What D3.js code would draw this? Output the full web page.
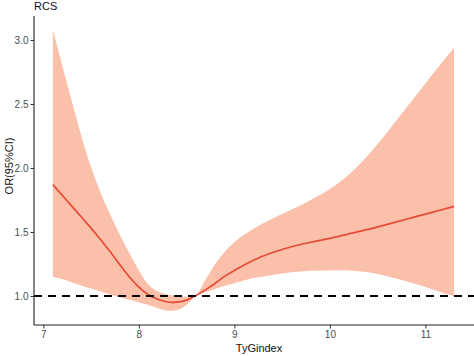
<!DOCTYPE html>
<html><head><meta charset="utf-8">
<script src="https://cdn.jsdelivr.net/npm/d3@7"></script>
<style>body{margin:0;background:#fff}svg{display:block}</style>
</head><body>
<svg id="c" width="474" height="356"></svg>
<script>
const tyg   = [7.1, 7.2, 7.3, 7.4, 7.5, 7.6, 7.7, 7.8, 7.9, 8.0, 8.1, 8.2, 8.3, 8.4, 8.5, 8.59, 8.7, 8.8, 8.9, 9.0, 9.2, 9.4, 9.6, 9.8, 10.0, 10.2, 10.4, 10.6, 10.8, 11.0, 11.2, 11.3];
const orVal = [1.87, 1.785, 1.70, 1.615, 1.53, 1.44, 1.345, 1.245, 1.15, 1.07, 1.01, 0.975, 0.953, 0.952, 0.968, 1.0, 1.05, 1.10, 1.155, 1.20, 1.28, 1.34, 1.385, 1.42, 1.45, 1.485, 1.52, 1.56, 1.60, 1.64, 1.68, 1.70];
const upper = [3.08, 2.795, 2.515, 2.245, 2.005, 1.805, 1.635, 1.48, 1.335, 1.20, 1.09, 1.035, 1.012, 1.0, 0.995, 1.0, 1.13, 1.25, 1.345, 1.42, 1.525, 1.605, 1.675, 1.75, 1.835, 1.95, 2.10, 2.28, 2.47, 2.66, 2.85, 2.94];
const lower = [1.15, 1.13, 1.105, 1.08, 1.058, 1.035, 1.012, 0.99, 0.97, 0.95, 0.93, 0.905, 0.885, 0.89, 0.93, 1.0, 1.03, 1.055, 1.08, 1.10, 1.14, 1.165, 1.185, 1.197, 1.20, 1.20, 1.185, 1.155, 1.115, 1.07, 1.02, 1.0];
const xTicks = [7, 8, 9, 10, 11];
const yTicks = [1.0, 1.5, 2.0, 2.5, 3.0];
const refValue = 1.0;

const data = tyg.map((x, i) => ({x, y: orVal[i], lo: lower[i], hi: upper[i]}));
const svg = d3.select("#c");
const L = 34, R = 474, T = 16, B = 325;
const x = d3.scaleLinear().domain([6.902, 11.509]).range([L, R]);
const y = d3.scaleLinear().domain([0.7734, 3.1875]).range([B, T]);
const font = "'Liberation Sans', Arial, Helvetica, sans-serif";

svg.append("path").datum(data)
  .attr("fill", "#FAC0AA")
  .attr("d", d3.area().x(d => x(d.x)).y0(d => y(d.lo)).y1(d => y(d.hi)).curve(d3.curveCatmullRom));

svg.append("path").datum(data)
  .attr("fill", "none").attr("stroke", "#E64B35").attr("stroke-width", 1.7)
  .attr("d", d3.line().x(d => x(d.x)).y(d => y(d.y)).curve(d3.curveCatmullRom));

svg.append("line")
  .attr("x1", L).attr("x2", R).attr("y1", y(refValue)).attr("y2", y(refValue))
  .attr("stroke", "#000").attr("stroke-width", 2.2).attr("stroke-dasharray", "8,6");

const xa = svg.append("g").attr("transform", `translate(0,${B})`)
  .call(d3.axisBottom(x).tickValues(xTicks).tickFormat(d3.format("d")).tickSize(3.5).tickSizeOuter(0).tickPadding(2));
const ya = svg.append("g").attr("transform", `translate(${L},0)`)
  .call(d3.axisLeft(y).tickValues(yTicks).tickFormat(d3.format(".1f")).tickSize(3.5).tickSizeOuter(0).tickPadding(2));
[xa, ya].forEach(a => {
  a.select(".domain").attr("stroke", "#222").attr("stroke-width", 1.1);
  a.selectAll(".tick line").attr("stroke", "#333").attr("stroke-width", 1);
  a.selectAll(".tick text").attr("fill", "#4D4D4D").style("font-size", "10px").style("font-family", font);
});
ya.select(".domain").attr("d", `M0,${B}V${T}`);
xa.select(".domain").attr("d", `M${L},0H${R}`);

svg.append("text").attr("x", 34).attr("y", 10).text("RCS")
  .style("font-size", "11px").style("font-family", font).attr("fill", "#111");
svg.append("text").attr("x", 259).attr("y", 352).attr("text-anchor", "middle").text("TyGindex")
  .style("font-size", "11px").style("font-family", font).attr("fill", "#111");
svg.append("text").attr("transform", "translate(13,166) rotate(-90)").attr("text-anchor", "middle").text("OR(95%CI)")
  .style("font-size", "11px").style("font-family", font).attr("fill", "#111");
</script>
</body></html>
